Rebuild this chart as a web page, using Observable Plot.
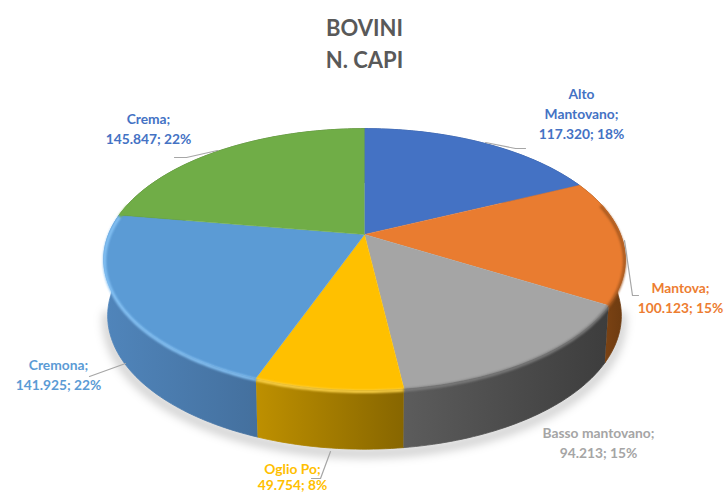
<!DOCTYPE html>
<html>
<head>
<meta charset="utf-8">
<script src="https://cdn.jsdelivr.net/npm/d3@7"></script>
<script src="https://cdn.jsdelivr.net/npm/@observablehq/plot@0.6"></script>
<style>html,body{margin:0;padding:0;background:#fff;overflow:hidden}</style>
</head>
<body>
<div id="chart"></div>
<script>
// data
const titleLines = ["BOVINI", "N. CAPI"];
const categories = ["Alto Mantovano", "Mantova", "Basso mantovano", "Oglio Po", "Cremona", "Crema"];
const values = [117320, 100123, 94213, 49754, 141925, 145847];

// styles
const topColors = ["#4472C4", "#E97C30", "#A5A5A5", "#FFC000", "#5B9BD5", "#70AD47"];
const labelColors = ["#4472C4", "#ED7D31", "#A5A5A5", "#FFC000", "#5B9BD5", "#4472C4"];
const sideLeft = ["#2f5597", "#8f4d18", "#5c5c5c", "#BE9000", "#5085BB", "#4e7a32"];
const sideRight = ["#2f5597", "#6b3a10", "#3d3d3d", "#876600", "#44709E", "#4e7a32"];
const rimColors = ["#4472C4", "#A85A20", "#7c7c7c", "#FFD54A", "#86C3F5", "#70AD47"];

// label layout (page units)
const labelLines = [
  ["Alto", "Mantovano;", "117.320; 18%"],
  ["Mantova;", "100.123; 15%"],
  ["Basso mantovano;", "94.213; 15%"],
  ["Oglio Po;", "49.754; 8%"],
  ["Cremona;", "141.925; 22%"],
  ["Crema;", "145.847; 22%"]
];
const labelX = [581, 680, 598, 292, 58, 148];
const labelY = [94, 288, 433, 469, 365, 119];
const labelStep = [20, 20, 20, 16.5, 20, 20];
const leaderX = [[485, 515, 525], [624, 632, 638], [], [330, 320, 311], [125, 89], [217, 186, 174]];
const leaderY = [[142, 148, 148], [240, 295, 295], [], [451, 478, 478], [363, 376], [150, 157, 157]];

// pie geometry: a disc in perspective
const W = 725, H = 494;
const cx = 364, cy = 234, rx = 256, ry = 126, persp = 0.19, depth = 56;
const total = d3.sum(values);
const cum = d3.cumsum(values);
const angles = values.map((v, i) => [(cum[i] - v) / total * 2 * Math.PI, cum[i] / total * 2 * Math.PI]);

function topPt(t) {
  const X = Math.sin(t), Y = Math.cos(t), w = 1 + persp * Y;
  return {x: cx + rx * X / w, y: cy - ry * Y / w};
}
function lowPt(t) {
  const X = Math.sin(t), Y = Math.cos(t), w = 1 + persp * Y;
  return {x: cx + rx * 0.985 * X / w, y: cy + depth - ry * 1.02 * Y / w};
}
function bevelPt(t) {
  const X = Math.sin(t), Y = Math.cos(t), w = 1 + persp * Y;
  return {x: cx + rx * 0.997 * X / w, y: cy + 1.5 - ry * Y / w};
}
function arc(a0, a1, f) {
  const n = Math.max(2, Math.ceil((a1 - a0) / 0.02));
  return d3.range(n + 1).map(k => f(a0 + (a1 - a0) * k / n));
}
const lineOpts = {x: "x", y: "y", curve: "linear"};
const clampA = ([a, b]) => [Math.max(a, Math.PI * 0.42), Math.min(b, Math.PI * 1.58)];

const defs = () => {
  const d = d3.create("svg:defs");
  values.forEach((_, i) => {
    const [a0, a1] = angles[i];
    const xs = arc(a0, a1, topPt).map(p => p.x);
    const lg = d.append("linearGradient")
      .attr("id", "side" + i).attr("gradientUnits", "userSpaceOnUse")
      .attr("x1", d3.min(xs)).attr("x2", d3.max(xs)).attr("y1", 0).attr("y2", 0);
    lg.append("stop").attr("offset", 0).attr("stop-color", sideLeft[i]);
    lg.append("stop").attr("offset", 1).attr("stop-color", sideRight[i]);
  });
  return d.node();
};

const marks = [defs];

// soft ground shadow
marks.push(Plot.line(
  arc(Math.PI * 0.55, Math.PI * 1.45, lowPt).map(p => ({x: p.x, y: p.y + 4})),
  {...lineOpts, stroke: "#000", strokeOpacity: 0.2, strokeWidth: 9, imageFilter: "blur(5px)"}
));

// sides
values.forEach((_, i) => {
  const [a0, a1] = angles[i];
  const poly = [...arc(a0, a1, topPt), ...arc(a0, a1, lowPt).reverse()];
  marks.push(Plot.line(poly, {...lineOpts, fill: `url(#side${i})`, stroke: `url(#side${i})`, strokeWidth: 0.8}));
});

// top faces
values.forEach((_, i) => {
  const [a0, a1] = angles[i];
  const poly = [{x: cx, y: cy}, ...arc(a0, a1, topPt)];
  marks.push(Plot.line(poly, {...lineOpts, fill: topColors[i], stroke: topColors[i], strokeWidth: 0.5}));
});

// bevel highlight along the front rim
values.forEach((_, i) => {
  const [a0, a1] = clampA(angles[i]);
  if (a1 <= a0) return;
  marks.push(Plot.line(arc(a0, a1, bevelPt), {
    ...lineOpts, stroke: rimColors[i], strokeWidth: 3, strokeLinecap: "butt", imageFilter: "blur(1px)"
  }));
});

// leaders
leaderX.forEach((xs, i) => {
  if (!xs.length) return;
  marks.push(Plot.line(xs.map((x, k) => ({x, y: leaderY[i][k]})), {...lineOpts, stroke: "#A6A6A6", strokeWidth: 1.2}));
});

// labels
const labelRows = labelLines.flatMap((lines, i) =>
  lines.map((t, k) => ({text: t, x: labelX[i], y: labelY[i] + k * labelStep[i], color: labelColors[i]})));
marks.push(Plot.text(labelRows, {
  x: "x", y: "y", text: "text", fill: "color", fontSize: 13.8, fontWeight: 700,
  fontFamily: "Lato", textAnchor: "middle"
}));

// title
marks.push(Plot.text(titleLines.map((t, k) => ({t, x: cx, y: 28 + k * 32})), {
  x: "x", y: "y", text: "t", fill: "#595959", fontSize: 22, fontWeight: 700,
  fontFamily: "Lato", textAnchor: "middle"
}));

const chart = Plot.plot({
  width: W, height: H,
  margin: 0,
  x: {domain: [0, W], range: [0, W], axis: null},
  y: {domain: [0, H], range: [0, H], axis: null},
  color: {type: "identity"},
  marks
});
document.getElementById("chart").appendChild(chart);
</script>
</body>
</html>
